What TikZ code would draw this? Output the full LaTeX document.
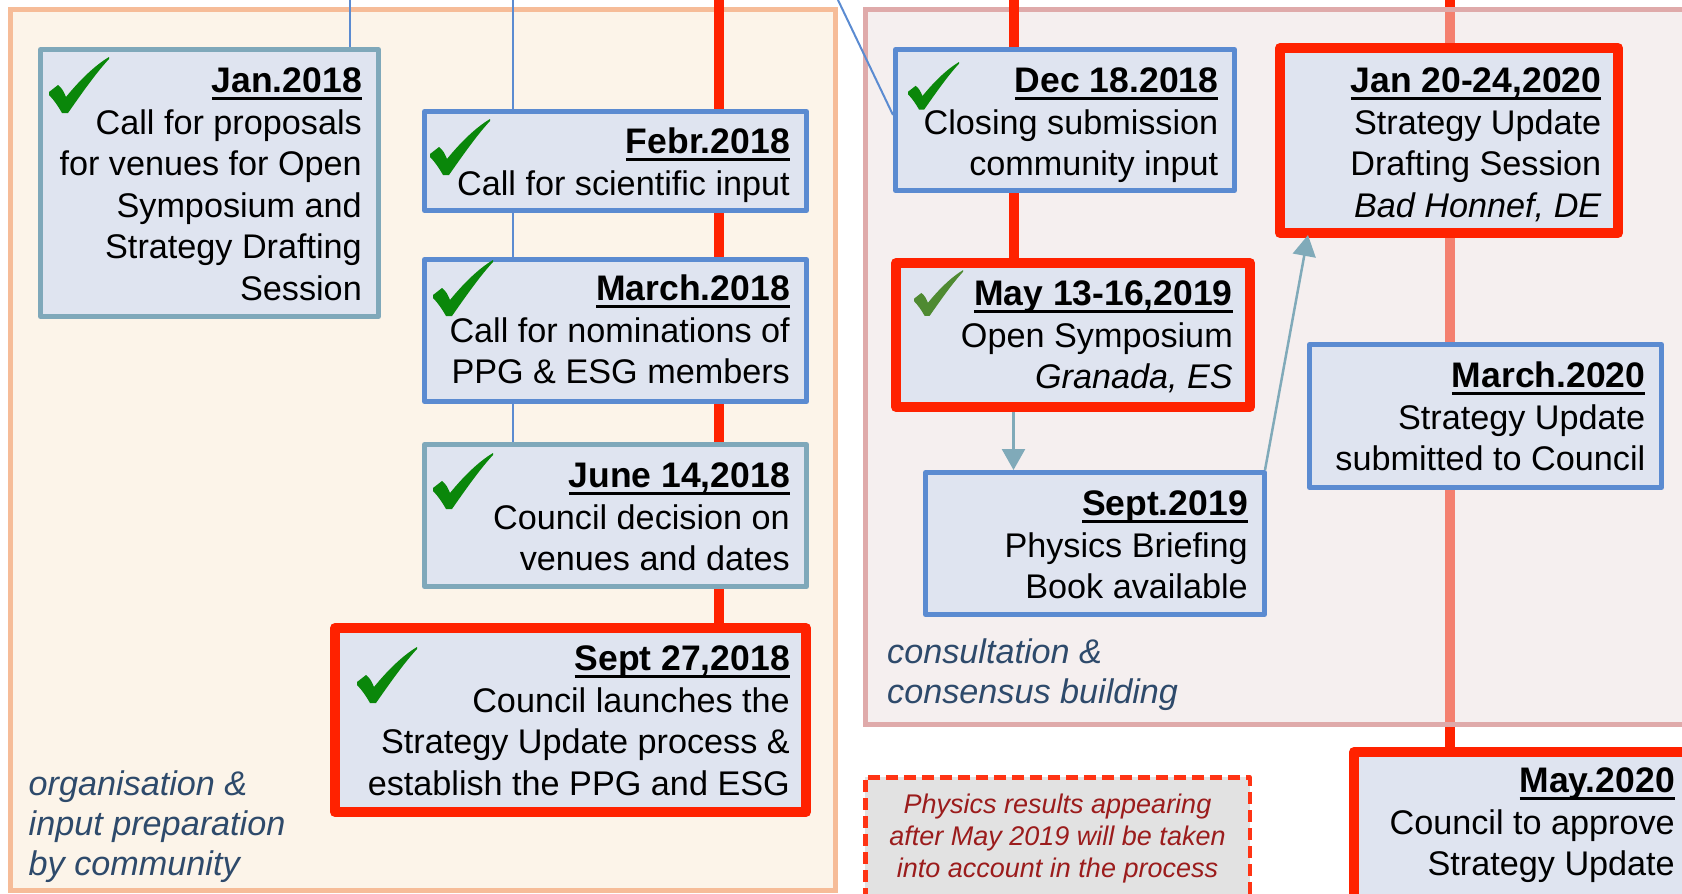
\documentclass[tikz,border=0pt]{standalone}
\usepackage{fontspec}
\setmainfont{Liberation Sans}
\usetikzlibrary{arrows.meta}

\definecolor{boxfill}{HTML}{DFE4F0}
\definecolor{boxblue}{HTML}{5B8BD1}
\definecolor{boxteal}{HTML}{7FA8BA}
\definecolor{hotred}{HTML}{FF2200}
\definecolor{orgfill}{HTML}{FCF4E9}
\definecolor{orgline}{HTML}{F6BC98}
\definecolor{consfill}{RGB}{235,223,223}
\definecolor{consline}{HTML}{DFAAAA}
\definecolor{labelink}{HTML}{2E4A6B}
\definecolor{notefill}{HTML}{E2E2E2}
\definecolor{noteink}{HTML}{9B1C1C}
\definecolor{notedash}{HTML}{FF3414}
\definecolor{chkgreen}{HTML}{0A870A}
\definecolor{chkolive}{HTML}{4F8A32}
\definecolor{flowteal}{HTML}{80AAB9}

\pgfdeclarelayer{under}
\pgfdeclarelayer{panels}
\pgfdeclarelayer{links}
\pgfsetlayers{under,panels,links,main}

% bold, underlined date heading of an event box
\newcommand\evtitle[1]{{\fontsize{35.5}{41.5}\selectfont\bfseries\setbox0=\hbox{#1}\rlap{\rule[-7pt]{\wd0}{3pt}}\box0}}

\tikzset{
  evbox/.style={rectangle, inner sep=0pt, fill=boxfill, line join=round},
  bluebox/.style={evbox, draw=boxblue, line width=5pt},
  tealbox/.style={evbox, draw=boxteal, line width=5pt},
  redbox/.style={evbox, draw=hotred, line width=10pt},
  notebox/.style={rectangle, inner sep=0pt, fill=notefill, draw=notedash, line width=4.5pt, dash pattern=on 12pt off 6pt, line join=round},
  evtext/.style={anchor=north east, inner sep=0pt, align=right, font=\fontsize{34.2}{41.5}\selectfont},
  notetext/.style={anchor=north, inner sep=0pt, align=center, text=noteink, font=\fontsize{27}{32}\selectfont\itshape},
  grouplabel/.style={anchor=north west, inner sep=0pt, align=left, text=labelink, font=\fontsize{34.2}{40}\selectfont\itshape},
  thinlink/.style={draw=boxblue, line width=2pt},
  mainline/.style={draw=hotred, line width=10pt},
  flow/.style={draw=flowteal, line width=2.5pt, -{Triangle[width=23pt,length=21pt]}},
  pics/check/.style={code={
    \fill[#1] (0,35) -- (9,28) .. controls (13,31) and (15,35) .. (17,40)
      .. controls (30,24) and (45,9) .. (60,0) -- (60,2)
      .. controls (47,16) and (33,36) .. (19,56) -- (13,56)
      .. controls (9,49) and (5,43) .. (0,38) -- cycle;}},
  pics/check/.default=chkgreen,
}

\begin{document}
\begin{tikzpicture}[x=1pt,y=-1pt]
\useasboundingbox (0,0) rectangle (1682,894);

% entry points of the timelines at the top edge
\coordinate (inA) at (350,-5);
\coordinate (inB) at (513,-5);
\coordinate (inC) at (718.5,-5);
\coordinate (inD) at (835.6,-5);
\coordinate (inE) at (1013.5,-5);
\coordinate (inF) at (1450,-5);

% event boxes
\node[tealbox, minimum width=338, minimum height=267] (jan18) at (209.5,183) {};
\node[bluebox, minimum width=382, minimum height=99]  (feb18) at (615.5,161) {};
\node[bluebox, minimum width=382, minimum height=142] (mar18) at (615.5,330.5) {};
\node[tealbox, minimum width=382, minimum height=142] (jun18) at (615.5,515.5) {};
\node[redbox,  minimum width=471, minimum height=184] (sep18) at (570.5,720) {};
\node[bluebox, minimum width=339, minimum height=141] (dec18) at (1065,120) {};
\node[redbox,  minimum width=354, minimum height=144] (may19) at (1073,335) {};
\node[redbox,  minimum width=338, minimum height=185] (jan20) at (1449,140.5) {};
\node[bluebox, minimum width=352, minimum height=143] (mar20) at (1485.5,416) {};
\node[bluebox, minimum width=339, minimum height=142] (sep19) at (1095,543.5) {};
\node[redbox,  minimum width=341, minimum height=148] (may20) at (1524.5,826) {};
\node[notebox, minimum width=384.5, minimum height=128] (note) at (1057.5,841.25) {};

% group panels
\begin{pgfonlayer}{panels}
  \draw[orgline, line width=5pt, fill=orgfill] (10.5,9.5) rectangle (835.5,890.5);
  \draw[consline, line width=5pt, fill=consfill, fill opacity=0.5] (865.5,9.5) rectangle (1720,724.5);
\end{pgfonlayer}

% timelines
\begin{pgfonlayer}{under}
  \draw[mainline] (inF) -- (inF |- may20.north);
\end{pgfonlayer}
\begin{pgfonlayer}{links}
  \draw[thinlink] (inA) -- (inA |- jan18.north);
  \draw[thinlink] (inB) -- (inB |- jun18.north);
  \draw[mainline] (inC) -- (inC |- sep18.north);
  \draw[thinlink] (inD) -- ([yshift=5pt]dec18.west);
  \draw[mainline] (inE) -- (inE |- may19.north);
\end{pgfonlayer}

\draw[flow] (inE |- may19.south) -- (inE |- sep19.north);
\draw[flow] ([xshift=-2pt]sep19.north east) -- ([xshift=33pt,yshift=3pt]jan20.south west);

% box texts
\node[evtext] (jan18t) at (362,63.3) {\strut\evtitle{Jan.2018}\\Call for proposals\\for venues for Open\\Symposium and\\Strategy Drafting\\Session};
\node[evtext] (feb18t) at (790,124.3) {\strut\evtitle{Febr.2018}\\Call for scientific input};
\node[evtext] (mar18t) at (790,271.3) {\strut\evtitle{March.2018}\\Call for nominations of\\PPG \& ESG members};
\node[evtext] (jun18t) at (790,458.3) {\strut\evtitle{June 14,2018}\\Council decision on\\venues and dates};
\node[evtext] (sep18t) at (790,641.3) {\strut\evtitle{Sept 27,2018}\\Council launches the\\Strategy Update process \&\\establish the PPG and ESG};
\node[evtext] (dec18t) at (1218.5,63.3) {\strut\evtitle{Dec 18.2018}\\Closing submission\\community input};
\node[evtext] (may19t) at (1233,276.3) {\strut\evtitle{May 13-16,2019}\\Open Symposium\\{\itshape Granada, ES}};
\node[evtext] (jan20t) at (1601.5,63.3) {\strut\evtitle{Jan 20-24,2020}\\Strategy Update\\Drafting Session\\{\itshape Bad Honnef, DE}};
\node[evtext] (mar20t) at (1645.5,358.3) {\strut\evtitle{March.2020}\\Strategy Update\\submitted to Council};
\node[evtext] (sep19t) at (1248,486.3) {\strut\evtitle{Sept.2019}\\Physics Briefing\\Book available};
\node[evtext] (may20t) at (1675,763.3) {\strut\evtitle{May.2020}\\Council to approve\\Strategy Update};
\node[notetext] (notet) at (1057.5,790.6) {\strut Physics results appearing\\after May 2019 will be taken\\into account in the process};

% group labels
\node[grouplabel] (orglabel) at (28.5,767) {\strut organisation \&\\input preparation\\by community};
\node[grouplabel] (conslabel) at (887,635) {\strut consultation \&\\consensus building};

% completed milestones
\pic at (49,57) {check};
\pic at (430,119) {check};
\pic at (433,260) {check};
\pic at (433,453) {check};
\pic at (357,647) {check};
\pic[scale=0.85] at (908,62) {check};
\pic[scale=0.82] at (914,270) {check=chkolive};
\end{tikzpicture}
\end{document}
